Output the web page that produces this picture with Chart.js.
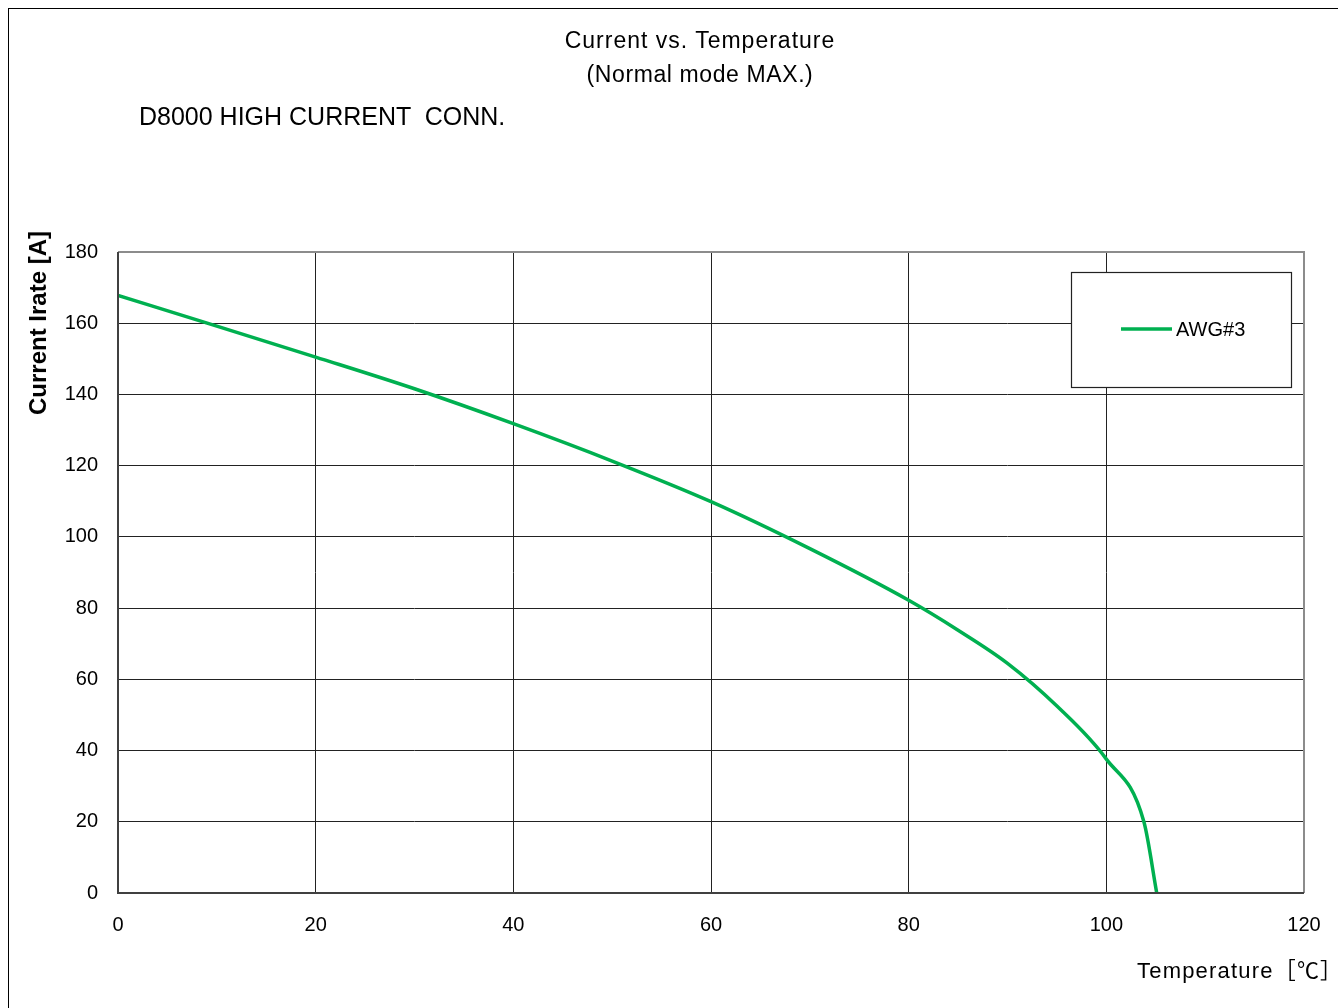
<!DOCTYPE html>
<html>
<head>
<meta charset="utf-8">
<script src="https://cdn.jsdelivr.net/npm/chart.js@4/dist/chart.umd.min.js"></script>
<style>
  html, body { margin: 0; padding: 0; background: #fff; }
  body { width: 1338px; height: 1008px; position: relative; overflow: hidden; font-family: "Liberation Sans", Arial, sans-serif; color: #000; }
  #frame { position: absolute; left: 8px; top: 8px; width: 1400px; height: 1100px; border: 1.5px solid #000; box-sizing: border-box; }
  #wrap { position: absolute; left: 0; top: 0; width: 1338px; height: 1008px; }
  .txt { position: absolute; white-space: pre; line-height: 1; }
  #t1 { left: 0; width: 1400px; text-align: center; top: 29px; font-size: 23px; letter-spacing: 1px; }
  #t2 { left: 0; width: 1400px; text-align: center; top: 63px; font-size: 23px; letter-spacing: 0.6px; }
  #sub { left: 139px; top: 104px; font-size: 25px; }
  #ytitle { left: 38px; top: 323px; font-size: 24px; font-weight: bold; transform: translate(-50%, -50%) rotate(-90deg); }
  #xtitle { left: 1137px; top: 960px; font-size: 22px; letter-spacing: 1.2px; font-family: "Liberation Sans", "Noto Sans CJK JP", sans-serif; }
</style>
</head>
<body>
<div id="frame"></div>
<div id="wrap"><canvas id="chart" width="1338" height="1008"></canvas></div>
<div class="txt" id="t1">Current vs. Temperature</div>
<div class="txt" id="t2">(Normal mode MAX.)</div>
<div class="txt" id="sub">D8000 HIGH CURRENT  CONN.</div>
<div class="txt" id="ytitle">Current Irate [A]</div>
<div class="txt" id="xtitle">Temperature［℃］</div>
<script>
// temperature (°C) vs. rated current (A)
const temps = [0, 10, 20, 30, 40, 50, 60, 70, 80, 85, 90, 95, 100, 103.8, 105.1];
const currents = [167.8, 159.2, 150.5, 141.6, 131.8, 121.3, 109.9, 96.7, 82.2, 73.8, 64.5, 52.5, 37.6, 20, 0];
const seriesName = 'AWG#3';
const xTicks = [0, 20, 40, 60, 80, 100, 120];
const yTicks = [0, 20, 40, 60, 80, 100, 120, 140, 160, 180];

const GREEN = '#00B050';
const TICK_FONT = { family: 'Liberation Sans, Arial, sans-serif', size: 20 };

// plot frame + boxed legend drawn on top of the chart area
const framePlugin = {
  id: 'frame',
  afterDraw(chart) {
    const { ctx, chartArea: a } = chart;
    ctx.save();
    ctx.strokeStyle = '#8c8c8c';
    ctx.lineWidth = 2;
    ctx.beginPath();
    ctx.moveTo(a.left, a.top); ctx.lineTo(a.right, a.top); ctx.lineTo(a.right, a.bottom);
    ctx.stroke();
    ctx.strokeStyle = '#404040';
    ctx.beginPath();
    ctx.moveTo(a.left, a.top); ctx.lineTo(a.left, a.bottom); ctx.lineTo(a.right, a.bottom);
    ctx.stroke();

    // legend box
    const ds = chart.data.datasets[0];
    const bx = 1071, by = 272, bw = 220, bh = 115;
    ctx.fillStyle = '#fff';
    ctx.fillRect(bx, by, bw, bh);
    ctx.strokeStyle = '#222';
    ctx.lineWidth = 1.2;
    ctx.strokeRect(bx + 0.5, by + 0.5, bw, bh);
    ctx.strokeStyle = ds.borderColor;
    ctx.lineWidth = 3.5;
    ctx.beginPath();
    ctx.moveTo(1121, 329); ctx.lineTo(1172, 329);
    ctx.stroke();
    ctx.fillStyle = '#000';
    ctx.font = '20px "Liberation Sans", Arial, sans-serif';
    ctx.textBaseline = 'middle';
    ctx.fillText(ds.label, 1176, 330);
    ctx.restore();
  }
};

new Chart(document.getElementById('chart'), {
  type: 'line',
  data: {
    datasets: [{
      label: seriesName,
      data: temps.map((t, i) => ({ x: t, y: currents[i] })),
      borderColor: GREEN,
      backgroundColor: GREEN,
      borderWidth: 3.5,
      pointRadius: 0,
      cubicInterpolationMode: 'monotone',
      fill: false,
    }],
  },
  options: {
    responsive: false,
    animation: false,
    devicePixelRatio: 1,
    layout: { padding: { left: 0, top: 252, right: 34, bottom: 0 } },
    plugins: { legend: { display: false }, tooltip: { enabled: false } },
    scales: {
      x: {
        type: 'linear',
        min: 0, max: 120,
        afterBuildTicks: s => { s.ticks = xTicks.map(v => ({ value: v })); },
        afterFit: s => { s.height = 115; s.paddingRight = 0; s.paddingLeft = 0; },
        ticks: { color: '#000', font: TICK_FONT, padding: 20, maxRotation: 0 },
        grid: { color: '#222', lineWidth: 1, drawTicks: false },
        border: { display: false },
      },
      y: {
        type: 'linear',
        min: 0, max: 180,
        afterBuildTicks: s => { s.ticks = yTicks.map(v => ({ value: v })); },
        afterFit: s => { s.width = 118; },
        ticks: { color: '#000', font: TICK_FONT, padding: 20 },
        grid: { color: '#222', lineWidth: 1, drawTicks: false },
        border: { display: false },
      },
    },
  },
  plugins: [framePlugin],
});
</script>
</body>
</html>
